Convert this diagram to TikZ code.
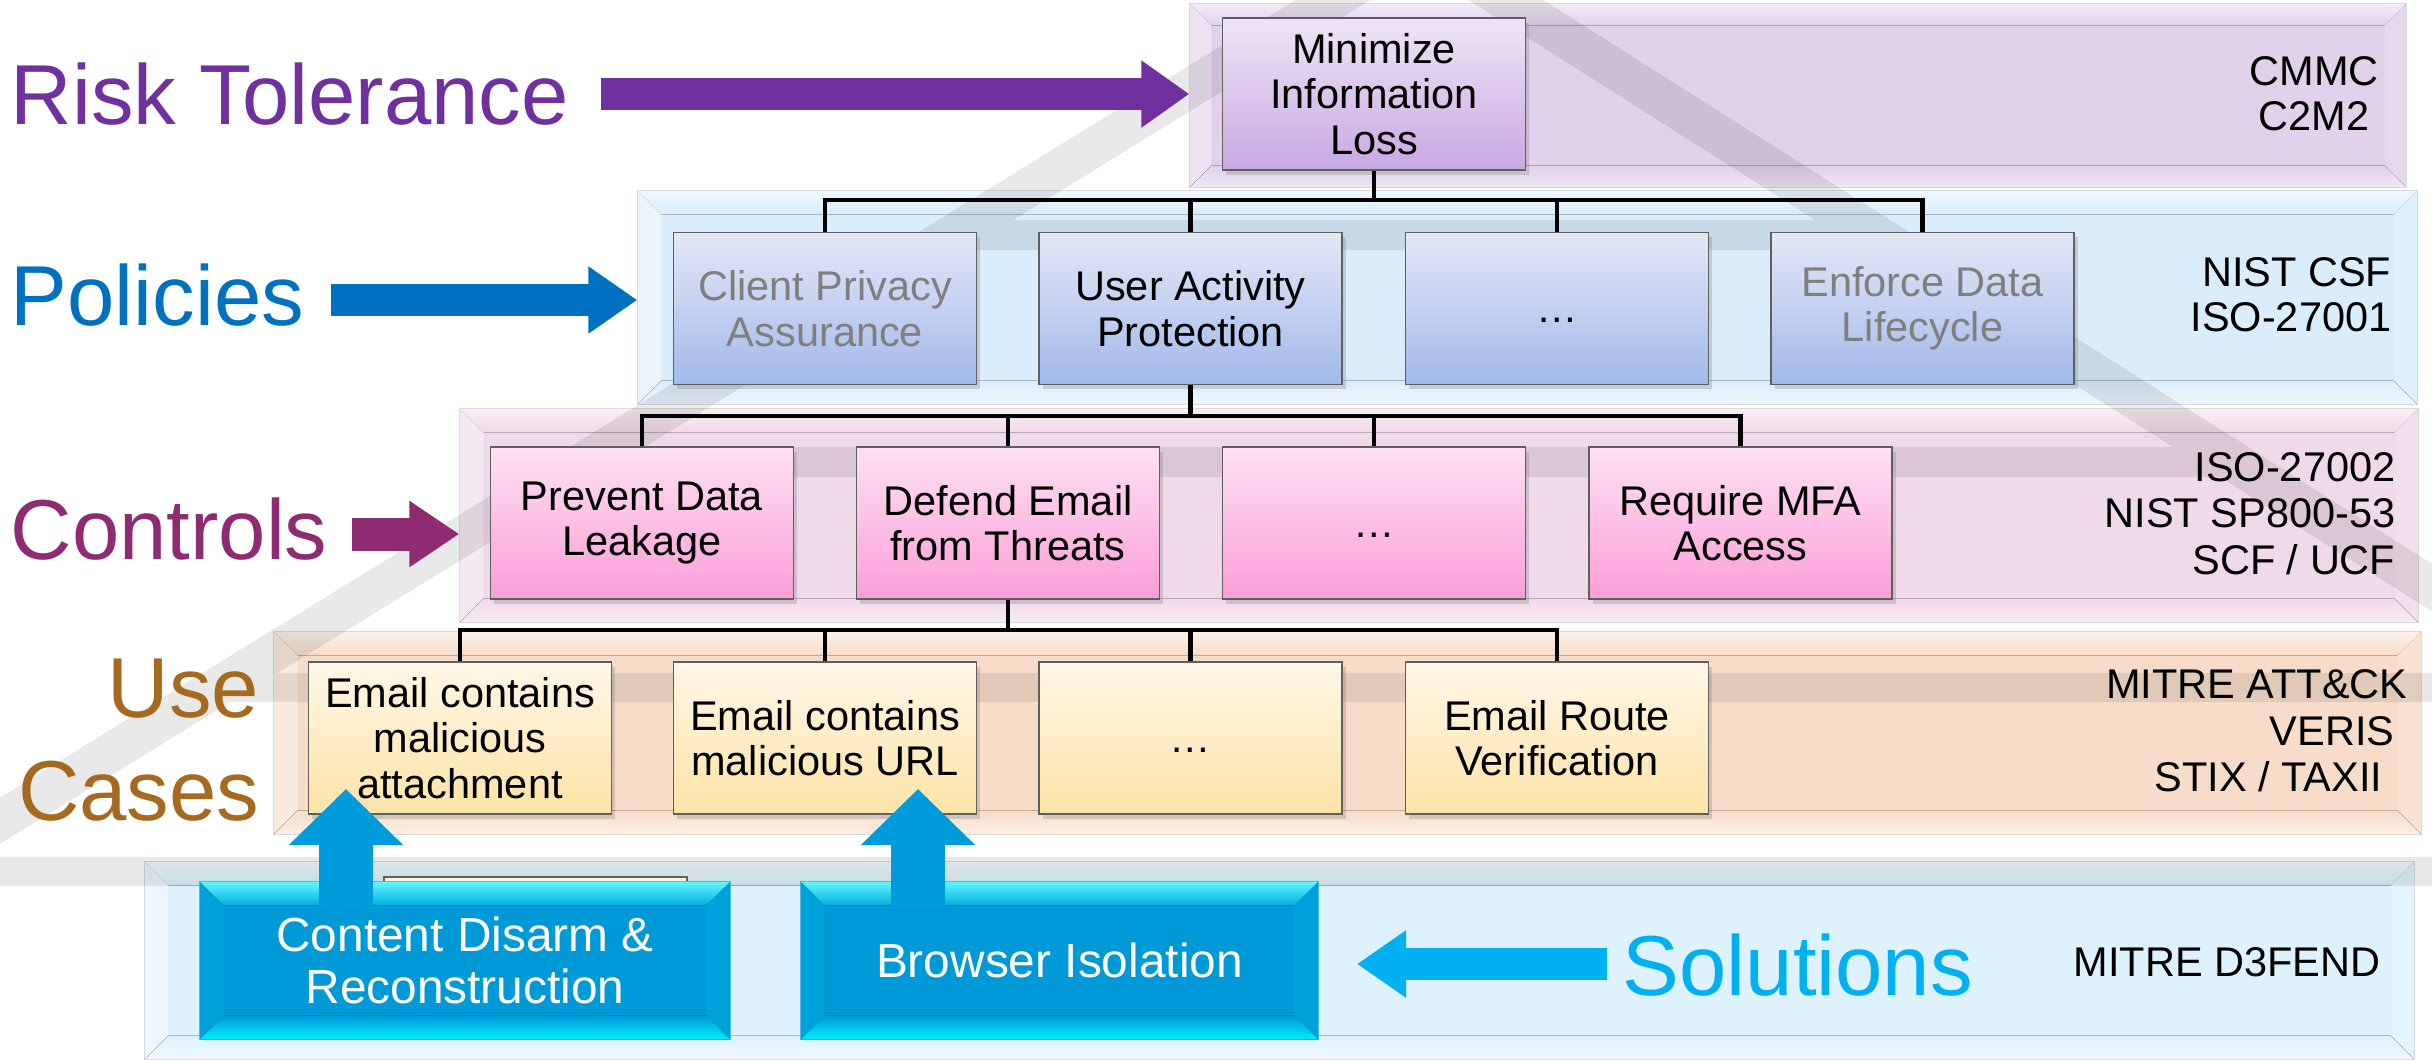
\documentclass[tikz,border=0pt]{standalone}
\usepackage{fontspec}
\setmainfont{Liberation Sans}
\usetikzlibrary{arrows.meta,calc,shadows}

\newlength\pxu
\setlength\pxu{0.01cm}

% layer label colours
\definecolor{rtPurple}{HTML}{7030A0}
\definecolor{polBlue}{HTML}{0070C0}
\definecolor{ctlPlum}{HTML}{8E2B72}
\definecolor{ucGold}{HTML}{A5691F}
\definecolor{solCyan}{HTML}{00B0F0}
\definecolor{solDeep}{HTML}{0099D8}
\definecolor{upBlue}{HTML}{009BDA}
% band colours
\definecolor{bandA}{HTML}{E1D1EA}
\definecolor{bandB}{HTML}{DAEDFC}
\definecolor{bandC}{HTML}{F0D9EA}
\definecolor{bandD}{HTML}{F7DDC9}
\definecolor{bandE}{HTML}{DDF2FC}
\definecolor{edgeGray}{HTML}{D9D9D9}
% box colours
\definecolor{boxLine}{HTML}{5F5F5F}
\definecolor{dimText}{HTML}{7F7F7F}
\definecolor{riskTop}{HTML}{EFE5F6}
\definecolor{riskBot}{HTML}{C8A8E2}
\definecolor{polTop}{HTML}{E4E8F7}
\definecolor{polBot}{HTML}{A2B9EA}
\definecolor{ctlTop}{HTML}{FEE1F3}
\definecolor{ctlBot}{HTML}{FB9ED8}
\definecolor{ucTop}{HTML}{FEF6E7}
\definecolor{ucBot}{HTML}{FDE3A6}
\definecolor{creamBox}{HTML}{FFF4DC}

\newcommand\lyrLabelFont{\fontsize{24.2pt}{29pt}\selectfont}
\newcommand\cellFont{\fontsize{11.8pt}{12.9pt}\selectfont}
\newcommand\refFont{\fontsize{11.8pt}{12.9pt}\selectfont}
\newcommand\refFontWide{\fontsize{11.8pt}{13.2pt}\selectfont}
\newcommand\solnFont{\fontsize{13.6pt}{14.8pt}\selectfont}

% light bevel around a band: #1 node, #2 colour, #3 depth
\newcommand\bandbevel[3]{%
  \fill[top color=#2!40!white, bottom color=#2]
    (#1.north west) -- (#1.north east) -- ($(#1.north east)+(-#3,#3)$) -- ($(#1.north west)+(#3,#3)$) -- cycle;
  \fill[#2!60!white]
    (#1.north west) -- ($(#1.north west)+(#3,#3)$) -- ($(#1.south west)+(#3,-#3)$) -- (#1.south west) -- cycle;
  \fill[#2!85!white]
    (#1.north east) -- ($(#1.north east)+(-#3,#3)$) -- ($(#1.south east)+(-#3,-#3)$) -- (#1.south east) -- cycle;
  \fill[top color=#2, bottom color=#2!50!white]
    (#1.south west) -- ($(#1.south west)+(#3,-#3)$) -- ($(#1.south east)+(-#3,-#3)$) -- (#1.south east) -- cycle;
  \draw[edgeGray, line width=1.5\pxu] (#1.north west) rectangle (#1.south east);}

% bevelled edges of a solution box
\newcommand\solbevel[1]{%
  \fill[top color=cyan!95!blue!60!white, bottom color=solDeep!80!cyan]
    (#1.north west) -- (#1.north east) -- ($(#1.north east)+(-24,24)$) -- ($(#1.north west)+(24,24)$) -- cycle;
  \fill[top color=solDeep, bottom color=cyan!85!solDeep]
    (#1.south west) -- ($(#1.south west)+(24,-24)$) -- ($(#1.south east)+(-24,-24)$) -- (#1.south east) -- cycle;
  \fill[solDeep!93!cyan]
    (#1.north west) -- ($(#1.north west)+(24,24)$) -- ($(#1.south west)+(24,-24)$) -- (#1.south west) -- cycle;
  \fill[solDeep!93!cyan]
    (#1.north east) -- ($(#1.north east)+(-24,24)$) -- ($(#1.south east)+(-24,-24)$) -- (#1.south east) -- cycle;}

\tikzset{
  band/.style={inner sep=0pt},
  cell/.style={draw=boxLine, line width=1.5\pxu, minimum width=303\pxu, minimum height=152\pxu,
    inner sep=0pt, align=center, font=\cellFont,
    drop shadow={shadow xshift=1pt, shadow yshift=-1.3pt, opacity=0.3}},
  riskcell/.style={cell, top color=riskTop, bottom color=riskBot},
  polcell/.style={cell, top color=polTop, bottom color=polBot},
  ctlcell/.style={cell, top color=ctlTop, bottom color=ctlBot},
  uccell/.style={cell, top color=ucTop, bottom color=ucBot},
  solcell/.style={fill=solDeep, inner sep=0pt, minimum height=157\pxu, align=center,
    font=\solnFont, text=white},
  tree/.style={draw=black, line width=4.3\pxu, line join=miter},
  layerlabel/.style={inner sep=0pt, font=\lyrLabelFont},
  reftext/.style={inner sep=0pt, font=\refFont},
  riskArrow/.style={draw=rtPurple, line width=0.32cm, -{Triangle[length=0.48cm,width=0.64cm]}},
  polArrow/.style={draw=polBlue, line width=0.32cm, -{Triangle[length=0.49cm,width=0.64cm]}},
  ctlArrow/.style={draw=ctlPlum, line width=0.33cm, -{Triangle[length=0.50cm,width=0.63cm]}},
  solArrow/.style={draw=solCyan, line width=0.32cm, -{Triangle[length=0.49cm,width=0.64cm]}},
  upArrow/.style={draw=upBlue, line width=0.54cm, -{Triangle[length=0.56cm,width=1.11cm]}}
}

\begin{document}
\begin{tikzpicture}[x=0.01cm, y=-0.01cm]
\useasboundingbox (0,0) rectangle (2432,1059);
\fill[white] (0,0) rectangle (2432,1059);

% ---- layer bands ----
\node[band, fill=bandA, minimum width=1216\pxu, minimum height=183\pxu] (bandRisk) at (1798,95.5) {};
\bandbevel{bandRisk}{bandA}{22}
\node[band, fill=bandB, minimum width=1779\pxu, minimum height=213\pxu] (bandPol) at (1527.5,297.5) {};
\bandbevel{bandPol}{bandB}{24}
\node[band, fill=bandC, minimum width=1958\pxu, minimum height=213\pxu] (bandCtl) at (1439,515.5) {};
\bandbevel{bandCtl}{bandC}{24}
\node[band, fill=bandD, minimum width=2147\pxu, minimum height=202\pxu] (bandUC) at (1347.5,733) {};
\bandbevel{bandUC}{bandD}{24}
\node[band, fill=bandE, minimum width=2269\pxu, minimum height=197\pxu] (bandSol) at (1279.5,960.5) {};
\bandbevel{bandSol}{bandE}{24}

% ---- faint pyramid behind the layers ----
\fill[black, opacity=0.085, nonzero rule]
  (1311.7,-10) -- (1386.7,-10) -- (-367.2,1070) -- (-442.2,1070) -- cycle
  (1452.7,-10) -- (1527.7,-10) -- (3229.8,1070) -- (3154.8,1070) -- cycle
  (951,220) -- (1876,220) -- (1876,250) -- (951,250) -- cycle
  (583,447) -- (2234,447) -- (2234,477) -- (583,477) -- cycle
  (217,673) -- (2450,673) -- (2450,702) -- (217,702) -- cycle
  (-10,857) -- (2450,857) -- (2450,886) -- (-10,886) -- cycle;

% ---- hierarchy boxes ----
\node[riskcell] (minLoss) at (1374,94) {Minimize\\Information\\Loss};

\node[polcell, text=dimText] (polA) at (825,308.5) {Client Privacy\\Assurance};
\node[polcell] (polB) at (1190.5,308.5) {User Activity\\Protection};
\node[polcell] (polC) at (1557,308.5) {\vphantom{A}…};
\node[polcell, text=dimText] (polD) at (1922.5,308.5) {Enforce Data\\Lifecycle};

\node[ctlcell] (ctlA) at (642,523) {Prevent Data\\Leakage};
\node[ctlcell] (ctlB) at (1008,523) {Defend Email\\from Threats};
\node[ctlcell] (ctlC) at (1374,523) {\vphantom{A}…};
\node[ctlcell] (ctlD) at (1740.5,523) {Require MFA\\Access};

\node[uccell] (ucA) at (460,738) {Email contains\\malicious\\attachment};
\node[uccell] (ucB) at (825,738) {Email contains\\malicious URL};
\node[uccell] (ucC) at (1190.5,738) {\vphantom{A}…};
\node[uccell] (ucD) at (1557,738) {Email Route\\Verification};

% ---- tree connectors ----
\coordinate (barPol) at (0,200);
\coordinate (barCtl) at (0,416);
\coordinate (barUC) at (0,630);
\draw[tree] (minLoss.south) -- (minLoss.south |- barPol);
\draw[tree] (polA.north) -- (polA.north |- barPol) -- (polD.north |- barPol) -- (polD.north);
\draw[tree] (polB.north) -- (polB.north |- barPol);
\draw[tree] (polC.north) -- (polC.north |- barPol);

\draw[tree] (polB.south) -- (polB.south |- barCtl);
\draw[tree] (ctlA.north) -- (ctlA.north |- barCtl) -- (ctlD.north |- barCtl) -- (ctlD.north);
\draw[tree] (ctlB.north) -- (ctlB.north |- barCtl);
\draw[tree] (ctlC.north) -- (ctlC.north |- barCtl);

\draw[tree] (ctlB.south) -- (ctlB.south |- barUC);
\draw[tree] (ucA.north) -- (ucA.north |- barUC) -- (ucD.north |- barUC) -- (ucD.north);
\draw[tree] (ucB.north) -- (ucB.north |- barUC);
\draw[tree] (ucC.north) -- (ucC.north |- barUC);

% ---- solutions ----
\draw[boxLine, line width=1.5\pxu, fill=creamBox] (384,905) -- (384,877) -- (687,877) -- (687,905);
\node[solcell, minimum width=530\pxu] (solCDR) at (465,960.5) {Content Disarm \&\\Reconstruction};
\solbevel{solCDR}
\node[solcell, minimum width=517\pxu] (solBI) at (1059.5,960.5) {Browser Isolation};
\solbevel{solBI}

% ---- block arrows ----
\coordinate (riskTail) at (601,94);
\draw[riskArrow] (riskTail) -- (bandRisk.west |- riskTail);
\coordinate (polTail) at (331,300);
\draw[polArrow] (polTail) -- (bandPol.west |- polTail);
\coordinate (ctlTail) at (352,534);
\draw[ctlArrow] (ctlTail) -- (bandCtl.west |- ctlTail);
\coordinate (solTail) at (1607,964);
\coordinate (solTip) at (1357,964);
\draw[solArrow] (solTail) -- (solTip);
\coordinate (cdrTail) at (346,907);
\coordinate (cdrTip) at (346,789);
\draw[upArrow] (cdrTail) -- (cdrTip);
\coordinate (biTail) at (918,907);
\coordinate (biTip) at (918,789);
\draw[upArrow] (biTail) -- (biTip);

% ---- layer labels ----
\node[layerlabel, anchor=base west, text=rtPurple] (riskLbl) at (10,124) {Risk Tolerance};
\node[layerlabel, anchor=base west, text=polBlue] (polLbl) at (10,325) {Policies};
\node[layerlabel, anchor=base west, text=ctlPlum] (ctlLbl) at (10,559) {Controls};
\node[layerlabel, anchor=base east, text=ucGold] (useLbl) at (260,717) {Use};
\node[layerlabel, anchor=base east, text=ucGold] (casesLbl) at (260,820) {Cases};
\node[layerlabel, anchor=base west, text=solCyan] (solLbl) at (1622,995) {Solutions};

% ---- reference frameworks ----
\node[reftext, align=center] (refRisk) at (2314,93.5) {CMMC\\C2M2};
\node[reftext, align=right, anchor=east] (refPol) at (2392,295) {NIST CSF\\ISO-27001};
\node[reftext, font=\refFontWide, align=right, anchor=east] (refCtl) at (2396,513.5) {ISO-27002\\NIST SP800-53\\SCF / UCF};
\node[reftext, font=\refFontWide, align=right, anchor=east] (refUC) at (2408,731) {MITRE ATT\&CK\\VERIS\kern13\pxu\\STIX / TAXII\kern25\pxu};
\node[reftext, anchor=base west] (refSol) at (2073,976) {MITRE D3FEND};
\end{tikzpicture}
\end{document}
